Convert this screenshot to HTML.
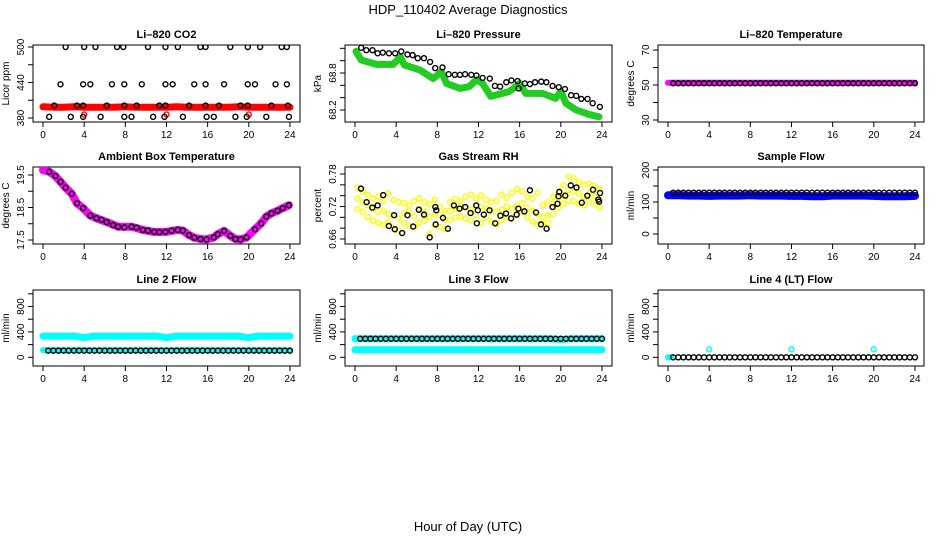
<!DOCTYPE html>
<html><head><meta charset="utf-8"><style>
html,body{margin:0;padding:0;background:#fff;}
svg{display:block;font-family:"Liberation Sans",sans-serif;}
</style></head><body>
<svg id="chart" width="936" height="540" viewBox="0 0 936 540" xmlns="http://www.w3.org/2000/svg">
<text x="468" y="14" text-anchor="middle" font-size="13">HDP_110402  Average Diagnostics</text>
<text x="468" y="531" text-anchor="middle" font-size="13">Hour of Day (UTC)</text>
</svg>
<script>
// shared categories
const HH = [0.5,1,1.5,2,2.5,3,3.5,4,4.5,5,5.5,6,6.5,7,7.5,8,8.5,9,9.5,10,10.5,11,11.5,12,12.5,13,13.5,14,14.5,15,15.5,16,16.5,17,17.5,18,18.5,19,19.5,20,20.5,21,21.5,22,22.5,23,23.5,24];
const BT = [0,1,2,3,4,5,6,7,8,9,10,11,12,13,14,15,16,17,18,19,20,21,22,23,24];
const xTicks = [0,4,8,12,16,20,24];

// CO2
const co2T500 = [2.2,4.0,5.1,7.2,7.8,10.2,11.9,13.1,15.3,15.8,18.2,19.9,21.1,23.2,23.7];
const co2T437 = [1.7,3.9,4.6,6.7,7.9,9.6,11.9,12.6,14.7,15.8,17.6,19.9,20.6,22.6,23.7];
const co2T401 = [1.1,3.3,3.9,6.2,7.9,9.1,11.3,11.9,14.2,15.8,17.1,19.2,19.9,22.2,23.8];
const co2T382 = [0.6,2.7,3.9,5.6,7.9,8.6,10.7,11.8,13.6,15.9,16.6,18.7,19.8,21.7,23.9];
const co2Red = [399,398,398,399,398,398,398,398,399,398,398,398,398,399,398,398,398,398,398,399,398,398,398,398,398];
const co2RedT = [4,12,20];
const co2RedV = [386,386,386];

// Pressure
const presT = [0.6,1.1,1.7,2.2,2.7,3.3,3.9,4.5,5.1,5.6,6.1,6.7,7.3,7.8,8.5,9.1,9.7,10.2,10.7,11.3,11.8,12.4,13.1,13.6,14.1,14.7,15.2,15.8,15.9,16.5,17.0,17.5,18.1,18.6,19.2,19.8,20.4,21.0,21.5,22.0,22.6,23.1,23.8];
const presV = [69.21,69.17,69.17,69.12,69.13,69.12,69.12,69.15,69.10,69.09,69.04,69.04,68.98,68.88,68.89,68.78,68.77,68.77,68.78,68.77,68.76,68.72,68.71,68.59,68.58,68.65,68.68,68.67,68.55,68.63,68.62,68.65,68.66,68.65,68.59,68.57,68.54,68.44,68.43,68.38,68.38,68.31,68.25];
const presGT = [0.1,0.6,2.1,3.7,4.4,4.8,6.3,7.6,8.4,8.9,10.2,11.1,11.8,12.4,13.2,15.0,16.0,16.6,18.2,19.5,20.0,20.5,21.5,22.7,23.7];
const presGV = [69.15,69.01,68.94,68.94,69.06,68.93,68.85,68.71,68.82,68.63,68.55,68.58,68.69,68.63,68.42,68.50,68.63,68.47,68.47,68.39,68.50,68.31,68.20,68.13,68.09];

// Li-820 temperature
const tempMag = [51.3,51.3,51.3,51.3,51.3,51.3,51.3,51.3,51.3,51.3,51.3,51.3,51.3,51.3,51.3,51.3,51.3,51.3,51.3,51.3,51.3,51.3,51.3,51.3,51.3];
const tempBlack = [51,51,51,51,51,51,51,51,51,51,51,51,51,51,51,51,51,51,51,51,51,51,51,51,51,51,51,51,51,51,51,51,51,51,51,51,51,51,51,51,51,51,51,51,51,51,51,51];

// Ambient
const ambT = [0.6,1.2,1.7,2.2,2.8,3.3,3.9,4.6,5.2,5.7,6.2,6.8,7.3,7.9,8.6,9.1,9.7,10.2,10.8,11.3,11.9,12.5,13.1,13.6,14.2,14.7,15.3,15.9,16.6,17.0,17.6,18.2,18.7,19.2,19.8,20.6,21.2,21.7,22.2,22.8,23.3,23.9];
const ambV = [19.60,19.47,19.29,19.11,18.92,18.63,18.48,18.25,18.17,18.12,18.05,17.96,17.91,17.89,17.91,17.88,17.81,17.79,17.75,17.74,17.75,17.79,17.81,17.79,17.65,17.57,17.53,17.52,17.58,17.68,17.78,17.63,17.53,17.52,17.58,17.83,18.01,18.22,18.32,18.40,18.48,18.57];
const ambMT = [0,0.6,1.2,1.7,2.2,2.8,3.3,3.9,4.6,5.2,6.2,7.3,8.6,9.7,10.8,11.9,13.1,13.6,14.2,14.7,15.3,15.9,16.6,17.0,17.6,18.2,18.7,19.2,19.8,20.6,21.2,21.7,22.2,22.8,23.3,23.9];
const ambMV = [19.65,19.60,19.47,19.29,19.11,18.92,18.63,18.48,18.25,18.17,18.05,17.91,17.91,17.81,17.75,17.75,17.81,17.79,17.65,17.57,17.53,17.52,17.58,17.68,17.78,17.63,17.53,17.52,17.58,17.83,18.01,18.22,18.32,18.40,18.48,18.57];

// Gas stream RH
const rhT = [0.58,1.13,1.68,2.2,2.74,3.29,3.8,3.87,4.58,5.1,5.65,6.2,6.71,7.26,7.81,7.84,7.9,8.55,9.03,9.61,10.16,10.71,11.23,11.78,11.84,11.94,12.52,13.07,13.62,14.13,14.68,15.17,15.71,15.88,16.46,17.0,17.59,18.07,18.62,19.2,19.68,19.78,19.85,20.43,20.97,21.52,22.04,22.58,23.13,23.65,23.72,23.81];
const rhV = [0.753,0.728,0.718,0.722,0.741,0.684,0.704,0.678,0.671,0.704,0.683,0.714,0.705,0.663,0.719,0.687,0.713,0.699,0.679,0.722,0.716,0.719,0.708,0.722,0.689,0.713,0.705,0.713,0.689,0.703,0.707,0.698,0.705,0.716,0.711,0.750,0.709,0.687,0.679,0.719,0.725,0.739,0.747,0.740,0.759,0.755,0.727,0.740,0.751,0.733,0.729,0.745];
const yelT = [0.25,0.75,1.25,1.75,2.25,2.75,3.25,3.75,4.25,4.75,5.25,5.75,6.25,6.75,7.25,7.75,8.25,8.75,9.25,9.75,10.25,10.75,11.25,11.75,12.25,12.75,13.25,13.75,14.25,14.75,15.25,15.75,16.25,16.75,17.25,17.75,18.25,18.75,19.25,19.75,20.25,20.75,21.25,21.75,22.25,22.75,23.25,23.75];
const yelA = [0.755,0.748,0.742,0.735,0.738,0.730,0.744,0.732,0.728,0.726,0.722,0.730,0.735,0.728,0.724,0.732,0.720,0.712,0.728,0.734,0.730,0.738,0.742,0.735,0.740,0.732,0.728,0.730,0.742,0.736,0.745,0.752,0.748,0.738,0.735,0.745,0.722,0.728,0.738,0.745,0.760,0.775,0.772,0.765,0.760,0.762,0.758,0.752];
const yelB = [0.735,0.728,0.722,0.716,0.710,0.712,0.706,0.704,0.698,0.708,0.712,0.702,0.716,0.710,0.700,0.706,0.704,0.695,0.712,0.716,0.720,0.718,0.714,0.722,0.719,0.716,0.712,0.710,0.714,0.720,0.716,0.722,0.726,0.718,0.712,0.706,0.700,0.704,0.725,0.735,0.742,0.750,0.748,0.744,0.738,0.746,0.740,0.732];
const yelC = [0.715,0.710,0.700,0.694,0.690,0.686,0.692,0.680,0.676,0.690,0.684,0.682,0.690,0.694,0.670,0.685,0.682,0.678,0.695,0.700,0.702,0.698,0.694,0.705,0.690,0.700,0.692,0.688,0.695,0.700,0.698,0.705,0.710,0.700,0.692,0.686,0.688,0.690,0.706,0.718,0.725,0.730,0.730,0.725,0.722,0.730,0.724,0.718];

// Sample flow
const sampleBlue = [121,121,120,120,119,120,120,120,121,120,120,120,119,119,118,118,120,120,120,120,119,118,118,118,119];
const sampleBlack = [129,129,129,129,129,129,129,129,129,129,129,129,129,129,129,129,129,129,129,129,129,129,129,129,129,129,129,129,129,129,129,129,129,129,129,129,129,129,129,129,129,129,129,129,129,129,129,129];

// Line flows
const line2Upper = [334,334,334,334,310,334,334,334,334,334,334,334,310,334,334,334,334,334,334,334,310,334,334,334,334];
const line2Lower = [112,112,112,112,112,112,112,112,112,112,112,112,112,112,112,112,112,112,112,112,112,112,112,112,112];
const line2Black = [105,105,105,105,105,105,105,105,105,105,105,105,105,105,105,105,105,105,105,105,105,105,105,105,105,105,105,105,105,105,105,105,105,105,105,105,105,105,105,105,105,105,105,105,105,105,105,105];
const line3Upper = [293,293,293,293,293,293,293,293,293,293,293,293,293,293,293,293,293,293,293,293,275,293,293,293,293];
const line3Lower = [118,118,118,118,118,118,118,118,118,118,118,118,118,118,118,118,118,118,118,118,118,118,118,118,118];
const line3Black = [292,292,292,292,292,292,292,292,292,292,292,292,292,292,292,292,292,292,292,292,292,292,292,292,292,292,292,292,292,292,292,292,292,292,292,292,292,292,292,292,292,292,292,292,292,292,292,292];
const line4Black = [0,0,0,0,0,0,0,0,0,0,0,0,0,0,0,0,0,0,0,0,0,0,0,0,0,0,0,0,0,0,0,0,0,0,0,0,0,0,0,0,0,0,0,0,0,0,0,0];
const line4CyanT = [0,0.1,0.2,0.3];
const line4CyanV = [0,0,0,0];
const line4SpikeT = [4,12,20];
const line4SpikeV = [125,125,125];

const NS = "http://www.w3.org/2000/svg";
const svg = document.getElementById('chart');
const colX0 = [43,355,668];
const colBox = [[33,300],[345,612],[658,924]];
const rowBox = [[45,122],[167,244],[290,366]];
const titleY = [38,160,283];
const PXH = 10.29;

function mk(tag, attrs, parent){const e=document.createElementNS(NS,tag);for(const k in attrs)e.setAttribute(k,attrs[k]);(parent||svg).appendChild(e);return e;}

function makePanel(col,row,title,ytitle,v1,p1,v2,p2,yticks,ylabels,name){
  const g=mk('g',{});
  
  
  const [bx0,bx1]=colBox[col],[by0,by1]=rowBox[row];
  const xs=h=>colX0[col]+h*PXH;
  const ys=v=>p1+(v-v1)*(p2-p1)/(v2-v1);
  const t=mk('text',{x:(bx0+bx1)/2,y:titleY[row],'text-anchor':'middle','font-size':'11','font-weight':'bold'},g);
  t.textContent=title;
  
  
  const box=mk('rect',{x:bx0,y:by0,width:bx1-bx0,height:by1-by0,fill:'none',stroke:'#000','stroke-width':1},g);
  
  
  // x axis
  const xa=mk('g',{},g);
  
  
  mk('line',{x1:xs(xTicks[0]),x2:xs(xTicks[xTicks.length-1]),y1:by1,y2:by1,stroke:'#000'},xa);
  xTicks.forEach(h=>{
    mk('line',{x1:xs(h),x2:xs(h),y1:by1,y2:by1+5,stroke:'#000'},xa);
    const l=mk('text',{x:xs(h),y:by1+16,'text-anchor':'middle','font-size':'10'},xa);
    l.textContent=h;
    
    
  });
  // y axis
  const ya=mk('g',{},g);
  
  
  mk('line',{x1:bx0,x2:bx0,y1:ys(yticks[0]),y2:ys(yticks[yticks.length-1]),stroke:'#000'},ya);
  yticks.forEach(v=>mk('line',{x1:bx0-5,x2:bx0,y1:ys(v),y2:ys(v),stroke:'#000'},ya));
  ylabels.forEach(v=>{
    const x=bx0-9,y=ys(v);
    const l=mk('text',{x:x,y:y,'text-anchor':'middle','font-size':'10',transform:`rotate(-90 ${x} ${y})`},ya);
    l.textContent=v;
    
    
  });
  const yt=mk('text',{x:bx0-24,y:(by0+by1)/2,'text-anchor':'middle','font-size':'10',transform:`rotate(-90 ${bx0-24} ${(by0+by1)/2})`},g);
  yt.textContent=ytitle;
  
  
  const clipId='clip'+col+row;
  const cp=mk('clipPath',{id:clipId},g);
  mk('rect',{x:bx0,y:by0,width:bx1-bx0,height:by1-by0},cp);
  const plot=mk('g',{'clip-path':`url(#${clipId})`},g);
  return {xs,ys,g:plot};
}
function pts(P,T,V,color,name,r,fill){
  const s=mk('g',{},P.g);
  
  
  T.forEach((t,i)=>{
    const c=mk('circle',{cx:P.xs(t),cy:P.ys(V[i]),r:r||2.5,fill:fill||'none',stroke:color,'stroke-width':1.4},s);
    
    
  });
}
function band(P,T,V,color,name,w){
  const d=T.map((t,i)=>(i?'L':'M')+P.xs(t).toFixed(1)+' '+P.ys(V[i]).toFixed(1)).join(' ');
  const p=mk('path',{d:d,fill:'none',stroke:color,'stroke-width':w||7,'stroke-linecap':'round','stroke-linejoin':'round'},P.g);
  
  
}
function rep(T,v){return T.map(()=>v);}

// Panel 1 CO2
let P=makePanel(0,0,'Li\u2013820 CO2','Licor ppm',500,47,380,118,[380,410,440,470,500],[380,440,500],'co2-panel');
band(P,BT,co2Red,'#ff0000','co2-red-band',7);
pts(P,co2RedT,co2RedV,'#ff0000','co2-red-outliers');
pts(P,co2T500,rep(co2T500,500),'#000','co2-black-500');
pts(P,co2T437,rep(co2T437,437),'#000','co2-black-437');
pts(P,co2T401,rep(co2T401,401),'#000','co2-black-401');
pts(P,co2T382,rep(co2T382,382),'#000','co2-black-382');

// Panel 2 Pressure
P=makePanel(1,0,'Li\u2013820 Pressure','kPa',68.8,73,68.2,110,[68.2,68.4,68.6,68.8,69.0,69.2],[68.2,68.8],'pressure-panel');
band(P,presGT,presGV,'#22cc22','pressure-green-band',7);
pts(P,presT,presV,'#000','pressure-black');

// Panel 3 Temperature
P=makePanel(2,0,'Li\u2013820 Temperature','degrees C',70,50,30,120,[30,40,50,60,70],[30,50,70],'li820-temperature-panel');
band(P,BT,tempMag,'#ff00ff','temperature-magenta-band',6);
pts(P,HH,tempBlack,'#000','temperature-black');

// Panel 4 Ambient
P=makePanel(0,1,'Ambient Box Temperature','degrees C',19.5,175,17.5,240,[17.5,18,18.5,19,19.5],[17.5,18.5,19.5],'ambient-panel');
band(P,ambMT,ambMV,'#ff00ff','ambient-magenta-band',8);
pts(P,ambT,ambV,'#000','ambient-black');

// Panel 5 RH
P=makePanel(1,1,'Gas Stream RH','percent',0.78,174,0.66,239,[0.66,0.68,0.70,0.72,0.74,0.76,0.78],[0.66,0.72,0.78],'rh-panel');
pts(P,yelT,yelA,'#ffff00','rh-yellow-a');
pts(P,yelT,yelB,'#ffff00','rh-yellow-b');
pts(P,yelT,yelC,'#ffff00','rh-yellow-c');
pts(P,rhT,rhV,'#000','rh-black');

// Panel 6 Sample flow
P=makePanel(2,1,'Sample Flow','ml/min',200,170,0,234,[0,50,100,150,200],[0,100,200],'sample-flow-panel');
band(P,BT,sampleBlue,'#0000ff','sample-blue-band',8);
pts(P,HH,sampleBlack,'#000','sample-black');

// Panel 7 Line 2
P=makePanel(0,2,'Line 2 Flow','ml/min',800,306.5,0,357.3,[0,200,400,600,800,1000],[0,400,800],'line2-panel');
band(P,BT,line2Upper,'#00ffff','line2-cyan-upper',7);
band(P,BT,line2Lower,'#00ffff','line2-cyan-lower',6);
pts(P,HH,line2Black,'#000','line2-black');

// Panel 8 Line 3
P=makePanel(1,2,'Line 3 Flow','ml/min',800,306.5,0,357.3,[0,200,400,600,800,1000],[0,400,800],'line3-panel');
band(P,BT,line3Upper,'#00ffff','line3-cyan-upper',7);
band(P,BT,line3Lower,'#00ffff','line3-cyan-lower',7);
pts(P,HH,line3Black,'#000','line3-black');

// Panel 9 Line 4
P=makePanel(2,2,'Line 4 (LT) Flow','ml/min',800,306.5,0,357.3,[0,200,400,600,800,1000],[0,400,800],'line4-panel');
band(P,line4CyanT,line4CyanV,'#00ffff','line4-cyan-band',6);
pts(P,HH,line4Black,'#000','line4-black');
pts(P,line4SpikeT,line4SpikeV,'#00ffff','line4-cyan-spikes');
</script>
</body></html>
